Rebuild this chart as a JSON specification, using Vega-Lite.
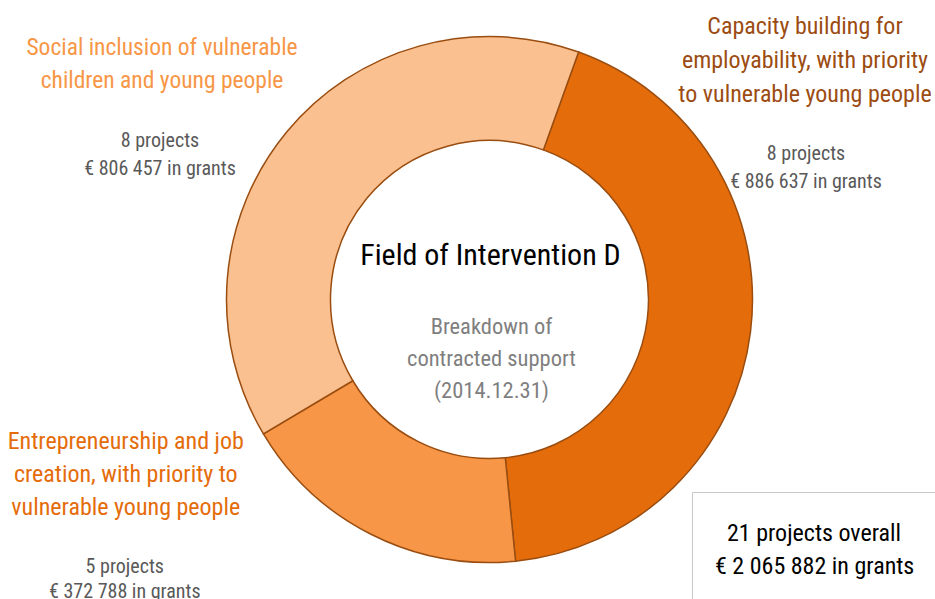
{
  "$schema": "https://vega.github.io/schema/vega-lite/v6.json",
  "width": 891,
  "height": 599,
  "autosize": {"type": "none"},
  "padding": {"left": 44, "top": 0, "right": 0, "bottom": 0},
  "background": "white",
  "config": {"view": {"stroke": null}, "font": "Roboto Condensed, DejaVu Sans Condensed, Roboto, sans-serif"},
  "datasets": {
    "slices": [
      {"n": 1, "key": "capacity", "grants": 886637, "projects": 8,
       "title": ["Capacity building for", "employability, with priority", "to vulnerable young people"],
       "count": ["8 projects", "€ 886 637 in grants"]},
      {"n": 2, "key": "entre", "grants": 372788, "projects": 5,
       "title": ["Entrepreneurship and job", "creation, with priority to", "vulnerable young people"],
       "count": ["5 projects", "€ 372 788 in grants"]},
      {"n": 3, "key": "social", "grants": 806457, "projects": 8,
       "title": ["Social inclusion of vulnerable", "children and young people"],
       "count": ["8 projects", "€ 806 457 in grants"]}
    ],
    "center": [
      {"title": "Field of Intervention D", "subtitle": ["Breakdown of", "contracted support", "(2014.12.31)"]}
    ]
  },
  "data": {"name": "slices"},
  "layer": [
    {
      "mark": {"type": "arc", "innerRadius": 159, "outerRadius": 263, "stroke": "#9a4d10", "strokeWidth": 1.5},
      "encoding": {
        "theta": {"field": "grants", "type": "quantitative", "stack": true, "scale": {"range": [0.3456, 6.6288]}},
        "order": {"field": "n", "type": "quantitative"},
        "color": {
          "field": "key", "type": "nominal",
          "scale": {"domain": ["capacity", "entre", "social"], "range": ["#E46C0A", "#F79646", "#FAC090"]},
          "legend": {
            "values": ["capacity"],
            "labelExpr": "'21 projects overall'",
            "title": "€ 2 065 882 in grants",
            "titleOrient": "bottom",
            "orient": "bottom-right",
            "offset": -3,
            "strokeColor": "#c8c8c8",
            "padding": 23,
            "titleFontSize": 24,
            "titleFontWeight": "normal",
            "titleColor": "#000000",
            "titleAlign": "left",
            "titleAnchor": "start",
            "titlePadding": 3,
            "titleLimit": 400,
            "labelFontSize": 24,
            "labelColor": "#000000",
            "labelLimit": 400,
            "labelOffset": -25,
            "symbolType": "square",
            "symbolSize": 1369,
            "symbolOpacity": 0,
            "symbolStrokeWidth": 0
          }
        }
      }
    },
    {
      "mark": {"type": "text", "fontSize": 24, "lineHeight": 34, "align": "center", "baseline": "alphabetic", "color": "#9C4C12", "dx": -12, "dy": -306},
      "encoding": {
        "theta": {"field": "grants", "type": "quantitative", "stack": true},
        "order": {"field": "n", "type": "quantitative"},
        "radius": {"value": 330},
        "text": {"condition": {"test": "datum.key === 'capacity'", "field": "title"}, "value": ""}
      }
    },
    {
      "mark": {"type": "text", "fontSize": 20, "lineHeight": 28, "align": "center", "baseline": "alphabetic", "color": "#595959", "dx": -11, "dy": -180},
      "encoding": {
        "theta": {"field": "grants", "type": "quantitative", "stack": true},
        "order": {"field": "n", "type": "quantitative"},
        "radius": {"value": 330},
        "text": {"condition": {"test": "datum.key === 'capacity'", "field": "count"}, "value": ""}
      }
    },
    {
      "mark": {"type": "text", "fontSize": 23.5, "lineHeight": 33, "align": "center", "baseline": "alphabetic", "color": "#F79646", "dx": -73, "dy": -34},
      "encoding": {
        "theta": {"field": "grants", "type": "quantitative", "stack": true},
        "order": {"field": "n", "type": "quantitative"},
        "radius": {"value": 330},
        "text": {"condition": {"test": "datum.key === 'social'", "field": "title"}, "value": ""}
      }
    },
    {
      "mark": {"type": "text", "fontSize": 20, "lineHeight": 28, "align": "center", "baseline": "alphabetic", "color": "#595959", "dx": -75, "dy": 58},
      "encoding": {
        "theta": {"field": "grants", "type": "quantitative", "stack": true},
        "order": {"field": "n", "type": "quantitative"},
        "radius": {"value": 330},
        "text": {"condition": {"test": "datum.key === 'social'", "field": "count"}, "value": ""}
      }
    },
    {
      "mark": {"type": "text", "fontSize": 24, "lineHeight": 33, "align": "center", "baseline": "alphabetic", "color": "#E46C0A", "dx": -215, "dy": -145},
      "encoding": {
        "theta": {"field": "grants", "type": "quantitative", "stack": true},
        "order": {"field": "n", "type": "quantitative"},
        "radius": {"value": 330},
        "text": {"condition": {"test": "datum.key === 'entre'", "field": "title"}, "value": ""}
      }
    },
    {
      "mark": {"type": "text", "fontSize": 20, "lineHeight": 25, "align": "center", "baseline": "alphabetic", "color": "#595959", "dx": -216, "dy": -21},
      "encoding": {
        "theta": {"field": "grants", "type": "quantitative", "stack": true},
        "order": {"field": "n", "type": "quantitative"},
        "radius": {"value": 330},
        "text": {"condition": {"test": "datum.key === 'entre'", "field": "count"}, "value": ""}
      }
    },
    {
      "data": {"name": "center"},
      "mark": {"type": "text", "fontSize": 30, "align": "center", "baseline": "alphabetic", "color": "#000000", "dx": 1, "dy": -35},
      "encoding": {"text": {"field": "title"}}
    },
    {
      "data": {"name": "center"},
      "mark": {"type": "text", "fontSize": 22.5, "lineHeight": 32, "align": "center", "baseline": "alphabetic", "color": "#7F7F7F", "dx": 2, "dy": 34},
      "encoding": {"text": {"field": "subtitle"}}
    }
  ]
}
